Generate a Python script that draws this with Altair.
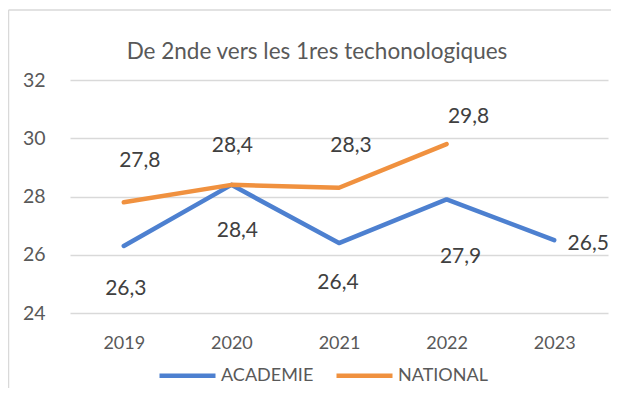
import altair as alt
import pandas as pd

years = ["2019", "2020", "2021", "2022", "2023"]
academie = [26.3, 28.4, 26.4, 27.9, 26.5]
national = [27.8, 28.4, 28.3, 29.8, None]
series_names = ["ACADEMIE", "NATIONAL"]
colors = ["#4D80D0", "#F0913F"]
y_ticks = [24, 26, 28, 30, 32]
title_text = "De 2nde vers les 1res techonologiques"

# label offsets (pixels) relative to each point, as placed in the reference
aca_dx = [2, 6, -1, 14, 34]
aca_dy = [43, 46, 40, 58, 4]
nat_dx = [16, 1, 12, 22]
nat_dy = [-41, -39, -42, -27]

rows = []
for yr, v in zip(years, academie):
    rows.append({"year": yr, "serie": "ACADEMIE", "value": v})
for yr, v in zip(years, national):
    if v is not None:
        rows.append({"year": yr, "serie": "NATIONAL", "value": v})
df = pd.DataFrame(rows)

FONT = "Lato"
GRID = "#D9D9D9"

x_enc = alt.X(
    "year:O",
    scale=alt.Scale(domain=years, padding=0.5),
    axis=alt.Axis(title=None, labelAngle=0, labelFont=FONT, labelFontSize=18,
                  labelColor="#595959", labelPadding=21, ticks=False, domain=False, grid=False),
)
y_enc = alt.Y(
    "value:Q",
    scale=alt.Scale(domain=[24, 32], nice=False, zero=False),
    axis=alt.Axis(title=None, values=y_ticks, labelFont=FONT, labelFontSize=19.5,
                  labelColor="#595959", labelPadding=25, ticks=False, domain=False,
                  grid=True, gridColor=GRID, gridWidth=1.3),
)

base = alt.Chart(df)

lines = base.mark_line(strokeWidth=4.5, strokeCap="round", strokeJoin="round").encode(
    x=x_enc,
    y=y_enc,
    color=alt.Color(
        "serie:N",
        scale=alt.Scale(domain=series_names, range=colors),
        legend=alt.Legend(
            title=None, orient="none", legendX=87, legendY=265, direction="horizontal",
            symbolType="stroke", symbolSize=3136, symbolStrokeWidth=4.5,
            labelFont=FONT, labelFontSize=18, labelColor="#595959",
            labelOffset=3, columnPadding=13,
        ),
    ),
)

layers = [lines]
label_expr = "replace(format(datum.value, '.1f'), '.', ',')"
for serie, vals, dxs, dys in [("ACADEMIE", academie, aca_dx, aca_dy),
                              ("NATIONAL", national, nat_dx, nat_dy)]:
    for i, yr in enumerate(years):
        if i >= len(dxs) or vals[i] is None:
            continue
        t = (
            base.transform_filter((alt.datum.serie == serie) & (alt.datum.year == yr))
            .transform_calculate(label=label_expr)
            .mark_text(font=FONT, fontSize=21, color="#404040", align="center",
                       baseline="middle", dx=dxs[i], dy=dys[i])
            .encode(x=x_enc, y=y_enc, text="label:N")
        )
        layers.append(t)

# chart-area border (left and top edges)
border_src = alt.Chart(pd.DataFrame({"a": [0]}))
left_border = border_src.mark_rule(color=GRID, strokeWidth=1.5).encode(
    x=alt.value(-61.5), y=alt.value(-70), y2=alt.value(330))
top_border = border_src.mark_rule(color=GRID, strokeWidth=1.5).encode(
    x=alt.value(-61.5), x2=alt.value(560), y=alt.value(-70))

chart = alt.layer(left_border, top_border, *layers).properties(
    width=538,
    height=233,
    autosize="none",
    padding={"left": 62, "top": 72, "right": 3, "bottom": 75},
    title=alt.Title(title_text, font=FONT, fontSize=22.5, color="#595959", fontWeight="normal",
                    anchor="middle", frame="group", dx=-22, offset=22, dy=94,
                    baseline="alphabetic"),
).configure(background="white").configure_view(strokeWidth=0, stroke="transparent")

chart.save("out.html", embed_options={"renderer": "svg", "actions": False})
